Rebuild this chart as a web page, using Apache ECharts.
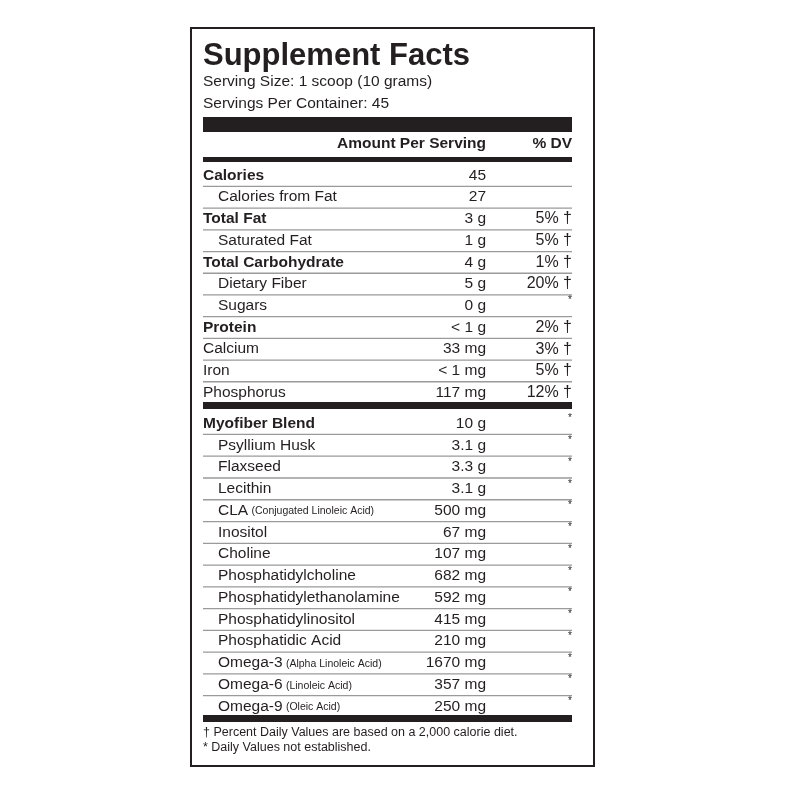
<!DOCTYPE html>
<html>
<head>
<meta charset="utf-8" />
<title>Supplement Facts</title>
<script src="https://cdn.jsdelivr.net/npm/echarts@6/dist/echarts.min.js"></script>
<style>
html, body { margin: 0; padding: 0; background: #fff; }
#main { width: 800px; height: 800px; }
</style>
</head>
<body>
<div id="main"></div>
<script>
// 标签数据
var servingSize = "Serving Size: 1 scoop (10 grams)";
var servingsPer = "Servings Per Container: 45";

var topNames = ["Calories", "Calories from Fat", "Total Fat", "Saturated Fat", "Total Carbohydrate",
	"Dietary Fiber", "Sugars", "Protein", "Calcium", "Iron", "Phosphorus"];
var topAmounts = ["45", "27", "3 g", "1 g", "4 g", "5 g", "0 g", "< 1 g", "33 mg", "< 1 mg", "117 mg"];
var topDV = ["", "", "5% †", "5% †", "1% †", "20% †", "*", "2% †", "3% †", "5% †", "12% †"];
var topBold = [1, 0, 1, 0, 1, 0, 0, 1, 0, 0, 0];
var topIndent = [0, 1, 0, 1, 0, 1, 1, 0, 0, 0, 0];

var blendNames = ["Myofiber Blend", "Psyllium Husk", "Flaxseed", "Lecithin", "CLA", "Inositol", "Choline",
	"Phosphatidylcholine", "Phosphatidylethanolamine", "Phosphatidylinositol", "Phosphatidic Acid",
	"Omega-3", "Omega-6", "Omega-9"];
var blendNotes = ["", "", "", "", "(Conjugated Linoleic Acid)", "", "", "", "", "", "",
	"(Alpha Linoleic Acid)", "(Linoleic Acid)", "(Oleic Acid)"];
var blendAmounts = ["10 g", "3.1 g", "3.3 g", "3.1 g", "500 mg", "67 mg", "107 mg", "682 mg", "592 mg",
	"415 mg", "210 mg", "1670 mg", "357 mg", "250 mg"];

var footnotes = ["† Percent Daily Values are based on a 2,000 calorie diet.", "* Daily Values not established."];

var FONT = "Liberation Sans, Arial, sans-serif";
var L = 203, R = 572, AMT = 486;
var FS = 15.5;
var els = [];

function txt(x, y, s, size, bold, align) {
	els.push({ type: "text", x: x, y: y, style: {
		text: s, font: (bold ? "bold " : "") + size + "px " + FONT,
		fill: "#231f20", align: align || "left", verticalAlign: "middle" } });
}
function bar(y, h, color) {
	els.push({ type: "rect", shape: { x: L, y: y, width: R - L, height: h }, style: { fill: color } });
}
function star(y) {
	txt(R, y - 5, "*", 10, false, "right");
}

// 外框
els.push({ type: "rect", shape: { x: 191, y: 28, width: 403, height: 738 },
	style: { fill: "none", stroke: "#231f20", lineWidth: 2 } });

txt(L, 56, "Supplement Facts", 31, true);
txt(L, 82, servingSize, FS, false);
txt(L, 104, servingsPer, FS, false);
bar(117, 15, "#231f20");
txt(AMT, 144, "Amount Per Serving", FS, true, "right");
txt(R, 144, "% DV", FS, true, "right");
bar(157, 5, "#231f20");

// 上半部分
var step1 = 21.7;
topNames.forEach(function (n, i) {
	var y = 175.5 + i * step1;
	txt(topIndent[i] ? 218 : L, y, n, FS, topBold[i]);
	txt(AMT, y, topAmounts[i], FS, false, "right");
	if (topDV[i] === "*") star(y);
	else if (topDV[i]) txt(R, y, topDV[i], 16, false, "right");
	if (i < topNames.length - 1) bar(y + 10.3, 1.3, "#9a9a9a");
});
bar(402, 7, "#231f20");

// 混合物部分
var step2 = 21.77;
blendNames.forEach(function (n, i) {
	var y = 423.5 + i * step2;
	var x = i === 0 ? L : 218;
	if (blendNotes[i]) {
		els.push({ type: "text", x: x, y: y, style: {
			text: "{a|" + n + "} {b|" + blendNotes[i] + "}", verticalAlign: "middle", fill: "#231f20",
			rich: { a: { font: FS + "px " + FONT, fill: "#231f20" },
				b: { font: "10.5px " + FONT, fill: "#231f20", padding: [2, 0, 0, 0] } } } });
	} else {
		txt(x, y, n, FS, i === 0);
	}
	txt(AMT, y, blendAmounts[i], FS, false, "right");
	star(y);
	if (i < blendNames.length - 1) bar(y + 10.3, 1.3, "#9a9a9a");
});
bar(715, 7, "#231f20");

txt(L, 733, footnotes[0], 12.5, false);
txt(L, 748, footnotes[1], 12.5, false);

var myChart = echarts.init(document.getElementById("main"));
myChart.setOption({ backgroundColor: "#fff", graphic: { elements: els } });
</script>
</body>
</html>
